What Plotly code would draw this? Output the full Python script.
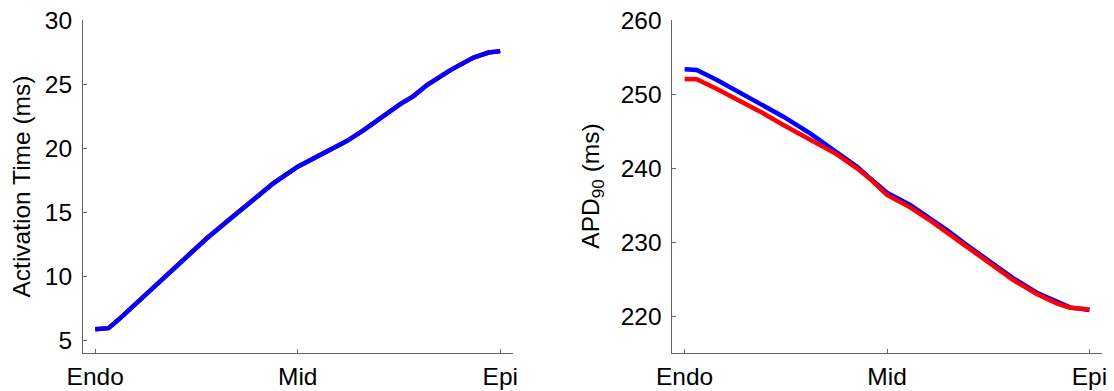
import plotly.graph_objects as go
from plotly.subplots import make_subplots

# Transmural position, 0 = endocardium, 1 = epicardium
depth_at = [0.0, 0.033, 0.062, 0.111, 0.160, 0.210, 0.276, 0.342, 0.391, 0.440,
            0.5, 0.556, 0.621, 0.663, 0.704, 0.753, 0.786, 0.819, 0.877, 0.934,
            0.971, 1.0]
at_blue = [5.86, 5.94, 6.72, 8.15, 9.65, 11.14, 12.96, 14.70, 16.00, 17.25,
           18.55, 19.46, 20.55, 21.40, 22.32, 23.43, 24.06, 24.92, 26.09, 27.07,
           27.46, 27.57]
at_red = [5.86, 5.94, 6.73, 8.16, 9.67, 11.16, 12.98, 14.71, 16.01, 17.26,
          18.55, 19.46, 20.55, 21.40, 22.32, 23.43, 24.06, 24.92, 26.09, 27.07,
          27.46, 27.57]

depth_apd = [0.0, 0.030, 0.080, 0.129, 0.187, 0.244, 0.310, 0.376, 0.426, 0.458,
             0.5, 0.557, 0.607, 0.648, 0.697, 0.755, 0.812, 0.870, 0.919, 0.952,
             1.0]
apd_blue = [253.34, 253.25, 251.90, 250.42, 248.75, 246.95, 244.70, 242.23, 240.20,
            238.63, 236.69, 235.03, 233.23, 231.65, 229.63, 227.38, 225.13, 223.19,
            221.98, 221.21, 220.85]
apd_red = [252.04, 251.99, 250.69, 249.29, 247.63, 245.83, 243.80, 241.87, 239.98,
           238.54, 236.38, 234.71, 232.91, 231.34, 229.40, 227.15, 224.90, 223.01,
           221.75, 221.17, 220.94]

x_tickvals = [0, 0.5, 1]
x_ticktext = ["Endo", "Mid", "Epi"]
at_ticks = [5, 10, 15, 20, 25, 30]
apd_ticks = [220, 230, 240, 250, 260]

W, H = 1114, 391
ml, mr, mt, mb = 83, 12.3, 20, 37.8
pw = W - ml - mr

fig = make_subplots(rows=1, cols=2)

fig.add_trace(go.Scatter(x=depth_at, y=at_red, mode="lines",
                         line=dict(color="#ff0000", width=4.5)), row=1, col=1)
fig.add_trace(go.Scatter(x=depth_at, y=at_blue, mode="lines",
                         line=dict(color="#0000ff", width=4.5)), row=1, col=1)
fig.add_trace(go.Scatter(x=depth_apd, y=apd_blue, mode="lines",
                         line=dict(color="#0000ff", width=4.5)), row=1, col=2)
fig.add_trace(go.Scatter(x=depth_apd, y=apd_red, mode="lines",
                         line=dict(color="#ff0000", width=4.5)), row=1, col=2)

font = dict(family="Liberation Sans, Arial, sans-serif", size=24.5, color="#000000")
axis_common = dict(showgrid=False, zeroline=False, showline=True, linecolor="#666666",
                   linewidth=1, ticks="inside", ticklen=4, tickcolor="#666666",
                   tickwidth=1, tickfont=font, automargin=False, mirror=False)

fig.update_xaxes(**axis_common, range=[-0.03, 1.031], tickvals=x_tickvals,
                 ticktext=x_ticktext, ticklabelstandoff=2)
fig.update_yaxes(**axis_common, ticklabelstandoff=5)
fig.update_yaxes(range=[4.0, 30.0], tickvals=at_ticks, row=1, col=1)
fig.update_yaxes(range=[215.05, 260.0], tickvals=apd_ticks, row=1, col=2)

fig.update_layout(
    width=W, height=H,
    margin=dict(l=ml, r=mr, t=mt, b=mb),
    paper_bgcolor="white", plot_bgcolor="white",
    showlegend=False,
    xaxis=dict(domain=[0, (512.7 - ml) / pw]),
    xaxis2=dict(domain=[(672.3 - ml) / pw, 1]),
    annotations=[
        dict(text="Activation Time (ms)", textangle=-90, font=font,
             xref="paper", yref="paper", x=(22 - ml) / pw, y=0.5,
             xanchor="center", yanchor="middle", showarrow=False),
        dict(text="APD<sub>90</sub> (ms)", textangle=-90, font=font,
             xref="paper", yref="paper", x=(592 - ml) / pw, y=0.5,
             xanchor="center", yanchor="middle", showarrow=False),
    ],
)

fig.write_html("out.html")
